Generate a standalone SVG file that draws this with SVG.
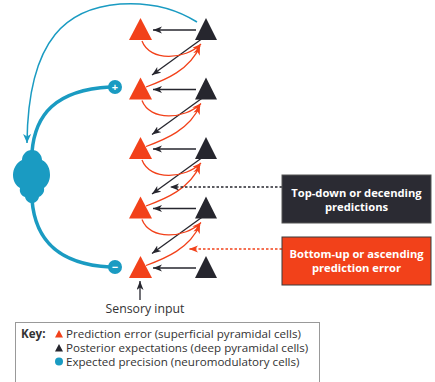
<svg xmlns="http://www.w3.org/2000/svg" width="435" height="382" viewBox="0 0 435 382">
<style>
.red{fill:#f2411a}
.dark{fill:#26262e}
.cy{fill:#1a9bc2}
.ld{stroke:#26262e;stroke-width:1.3;fill:none}
.lr{stroke:#f2411a;stroke-width:1.3;fill:none}
.lc{stroke:#1a9bc2;fill:none}
.t{font-family:"Open Sans","Liberation Sans",sans-serif}
.bx{font-family:"Open Sans","Liberation Sans",sans-serif;font-weight:bold;font-size:11.2px;fill:#fff;text-anchor:middle}
.key{font-family:"Open Sans","Liberation Sans",sans-serif;font-size:11.6px;fill:#333}
</style>
<defs>
<marker id="ad" markerUnits="userSpaceOnUse" markerWidth="10" markerHeight="8" refX="9" refY="3.5" orient="auto"><path d="M0,0 L9,3.5 L0,7 L2.5,3.5 z" fill="#26262e"/></marker>
<marker id="ar" markerUnits="userSpaceOnUse" markerWidth="10" markerHeight="8" refX="9" refY="3.5" orient="auto"><path d="M0,0 L9,3.5 L0,7 L2.5,3.5 z" fill="#f2411a"/></marker>
<marker id="ac" markerUnits="userSpaceOnUse" markerWidth="10" markerHeight="10" refX="9" refY="4" orient="auto"><path d="M0,0 L9,4 L0,8 L2.5,4 z" fill="#1a9bc2"/></marker>
<polygon id="tri" points="-11.5,0 11.5,0 0,-22"/>
<polygon id="btri" points="-11,0 11,0 0,-22"/>
</defs>

<g id="connectors">
<path class="ld" marker-end="url(#ad)" d="M196 30 L153 30"/>
<path class="ld" marker-end="url(#ad)" d="M196 89.5 L153 89.5"/>
<path class="ld" marker-end="url(#ad)" d="M196 149 L153 149"/>
<path class="ld" marker-end="url(#ad)" d="M196 208.5 L153 208.5"/>
<path class="ld" marker-end="url(#ad)" d="M196 268 L153 268"/>
<path class="ld" marker-end="url(#ad)" d="M203 38 L152 75"/>
<path class="ld" marker-end="url(#ad)" d="M203 97.5 L152 134.5"/>
<path class="ld" marker-end="url(#ad)" d="M203 157 L152 194"/>
<path class="ld" marker-end="url(#ad)" d="M203 216.5 L152 253.5"/>
<path class="lr" marker-end="url(#ar)" d="M142 41 C150 62, 185 60, 201 44"/>
<path class="lr" marker-end="url(#ar)" d="M142 100.5 C150 121.5, 185 119.5, 201 103.5"/>
<path class="lr" marker-end="url(#ar)" d="M142 160 C150 181, 185 179, 201 163"/>
<path class="lr" marker-end="url(#ar)" d="M142 219.5 C150 240.5, 185 238.5, 201 222.5"/>
<path class="lr" marker-end="url(#ar)" d="M146 87 C165 80, 190 70, 200 46"/>
<path class="lr" marker-end="url(#ar)" d="M146 146.5 C165 139.5, 190 129.5, 200 105.5"/>
<path class="lr" marker-end="url(#ar)" d="M146 206 C165 199, 190 189, 200 165"/>
<path class="lr" marker-end="url(#ar)" d="M146 265.5 C165 258.5, 190 248.5, 200 224.5"/>
<path class="ld" marker-end="url(#ad)" d="M140 300 L140 281"/>
<path class="ld" stroke-dasharray="2.5 2" marker-end="url(#ad)" d="M282 187 L170 187"/>
<path class="lr" stroke-dasharray="2.5 2" marker-end="url(#ar)" d="M282 249 L189 249"/>
<path class="lc" stroke-width="1.5" marker-end="url(#ac)" d="M197 22 C175 8, 150 2, 120 4 C70 8, 28 35, 27 143"/>
<path class="lc" stroke-width="3.5" d="M32 152 C35 115, 55 90, 110 87"/>
<path class="lc" stroke-width="3.5" d="M32 200 C35 237, 55 264, 110 267"/>
</g>

<g id="precision-node">
<path class="cy" d="M32 150 C38 150, 42 155, 42 160 C48 163, 50 169, 50 175 C50 181, 47 186, 44 188 C45 193, 41 196, 39 197 C38 201, 35 203, 32 203 C29 203, 26 201, 25 197 C22 196, 19 193, 20 188 C16 186, 13 181, 13 175 C13 169, 16 163, 22 160 C22 155, 26 150, 32 150 Z"/>
</g>
<g id="plus">
<circle class="cy" cx="115" cy="87" r="7"/>
<text class="t" x="115" y="91" font-size="11" font-weight="bold" fill="#fff" text-anchor="middle">+</text>
</g>
<g id="minus">
<circle class="cy" cx="115" cy="267" r="7"/>
<text class="t" x="115" y="271" font-size="11" font-weight="bold" fill="#fff" text-anchor="middle">−</text>
</g>

<g id="level1"><use href="#tri" class="red" x="140.5" y="40"/><use href="#btri" class="dark" x="206" y="40"/></g>
<g id="level2"><use href="#tri" class="red" x="140.5" y="99.5"/><use href="#btri" class="dark" x="206" y="99.5"/></g>
<g id="level3"><use href="#tri" class="red" x="140.5" y="159"/><use href="#btri" class="dark" x="206" y="159"/></g>
<g id="level4"><use href="#tri" class="red" x="140.5" y="218.5"/><use href="#btri" class="dark" x="206" y="218.5"/></g>
<g id="level5"><use href="#tri" class="red" x="140.5" y="278"/><use href="#btri" class="dark" x="206" y="278"/></g>

<g id="sensory-label">
<text class="t" x="145" y="313" font-size="12.3" fill="#333" text-anchor="middle">Sensory input</text>
</g>

<g id="topdown-box">
<rect x="282" y="175" width="149" height="48" fill="#2b2b33" stroke="#555" stroke-width="1"/>
<text class="bx" x="356.5" y="197">Top-down or decending</text>
<text class="bx" x="356.5" y="211">predictions</text>
</g>
<g id="bottomup-box">
<rect x="282" y="237" width="149" height="48" fill="#f2411a" stroke="#3a3a3a" stroke-width="1"/>
<text class="bx" x="356.5" y="258">Bottom-up or ascending</text>
<text class="bx" x="356.5" y="272">prediction error</text>
</g>

<g id="key">
<rect x="15.5" y="322.5" width="304" height="70" fill="#fff" stroke="#999" stroke-width="1"/>
<text class="key" x="21" y="338" font-weight="bold" font-size="12" fill="#222">Key:</text>
<polygon class="red" points="55,337.5 63,337.5 59,330"/>
<polygon class="dark" points="55,351.5 63,351.5 59,344"/>
<circle class="cy" cx="59" cy="361.5" r="4"/>
<text class="key" x="66" y="338">Prediction error (superficial pyramidal cells)</text>
<text class="key" x="66" y="352">Posterior expectations (deep pyramidal cells)</text>
<text class="key" x="66" y="366">Expected precision (neuromodulatory cells)</text>
</g>
</svg>
